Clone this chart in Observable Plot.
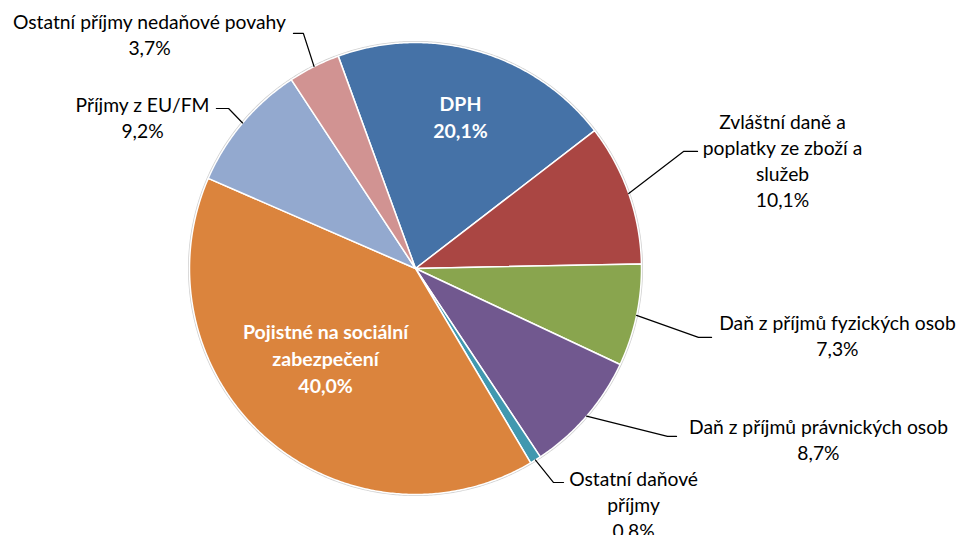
<!DOCTYPE html>
<html>
<head>
<meta charset="utf-8">
<script src="https://cdn.jsdelivr.net/npm/d3@7"></script>
<script src="https://cdn.jsdelivr.net/npm/@observablehq/plot@0.6"></script>
<style>
  html, body { margin: 0; padding: 0; background: #fff; overflow: hidden; }
</style>
</head>
<body>
<div id="chart"></div>
<script>
// ---- data ----
const categories = [
  "DPH",
  "Zvláštní daně a poplatky ze zboží a služeb",
  "Daň z příjmů fyzických osob",
  "Daň z příjmů právnických osob",
  "Ostatní daňové příjmy",
  "Pojistné na sociální zabezpečení",
  "Příjmy z EU/FM",
  "Ostatní příjmy nedaňové povahy"
];
const shares = [20.1, 10.1, 7.3, 8.7, 0.8, 40.0, 9.2, 3.7];
const labelLines = [
  "DPH",
  "Zvláštní daně a\npoplatky ze zboží a\nslužeb",
  "Daň z příjmů fyzických osob",
  "Daň z příjmů právnických osob",
  "Ostatní daňové\npříjmy",
  "Pojistné na sociální\nzabezpečení",
  "Příjmy z EU/FM",
  "Ostatní příjmy nedaňové povahy"
];
const colors = ["#4572A7", "#AA4643", "#89A54E", "#71588F", "#4198AF", "#DB843D", "#93A9CF", "#D19392"];

// ---- layout (radius units, relative to pie centre, y up) ----
const inside = [true, false, false, false, false, true, false, false];
const labelPos = [[0.199, 0.677], [1.624, 0.482], [1.867, -0.292], [1.783, -0.752], [0.965, -1.040], [-0.398, -0.392], [-1.208, 0.673], [-1.177, 1.040]];
const elbow = [null, [1.248, 1.186, 0.518], [1.310, 1.252, -0.305], [1.155, 1.115, -0.743], [0.655, 0.611, -0.947], null, [-0.881, -0.827, 0.708], [-0.540, -0.496, 1.040]];

const W = 960, H = 535, R = 226, CX = 415, CY = 268;
const startAngle = -20 * Math.PI / 180;

const arcs = d3.pie().sort(null).startAngle(startAngle).endAngle(startAngle + 2 * Math.PI)(shares);

const fmt = v => v.toFixed(1).replace(".", ",") + "%";

// slice polygons
const slicePts = [];
arcs.forEach((a, i) => {
  const n = Math.max(2, Math.ceil((a.endAngle - a.startAngle) / (Math.PI / 360)));
  slicePts.push({name: categories[i], x: 0, y: 0});
  for (let k = 0; k <= n; k++) {
    const t = a.startAngle + (a.endAngle - a.startAngle) * k / n;
    slicePts.push({name: categories[i], x: Math.sin(t), y: Math.cos(t)});
  }
  slicePts.push({name: categories[i], x: 0, y: 0});
});

// outer rim
const rim = d3.range(0, 721).map(k => {
  const t = k / 720 * 2 * Math.PI;
  return {x: Math.sin(t), y: Math.cos(t)};
});

// leader lines
const leaderPts = [];
arcs.forEach((a, i) => {
  if (inside[i]) return;
  const m = (a.startAngle + a.endAngle) / 2;
  const [e1, e2, ey] = elbow[i];
  leaderPts.push({name: categories[i], x: Math.sin(m), y: Math.cos(m)});
  leaderPts.push({name: categories[i], x: e2, y: ey});
  leaderPts.push({name: categories[i], x: e1, y: ey});
});

const labels = categories.map((c, i) => ({
  name: c,
  text: labelLines[i] + "\n" + fmt(shares[i]),
  x: labelPos[i][0],
  y: labelPos[i][1],
  inside: inside[i]
}));

const chart = Plot.plot({
  width: W,
  height: H,
  margin: 0,
  x: {domain: [-CX / R, (W - CX) / R], axis: null},
  y: {domain: [(CY - H) / R, CY / R], axis: null},
  color: {domain: categories, range: colors},
  style: {fontFamily: "Lato, 'Noto Sans', sans-serif", background: "#fff"},
  marks: [
    Plot.line(rim, {x: "x", y: "y", stroke: "#d0d0d0", strokeWidth: 3}),
    Plot.line(slicePts, {x: "x", y: "y", z: "name", fill: "name", stroke: "#fff", strokeWidth: 1.5, strokeLinejoin: "round"}),
    Plot.line(leaderPts, {x: "x", y: "y", z: "name", stroke: "#000", strokeWidth: 1.2}),
    Plot.text(labels.filter(d => !d.inside), {x: "x", y: "y", text: "text", fill: "#000", fontSize: 19.3, lineHeight: 1.36, textAnchor: "middle"}),
    Plot.text(labels.filter(d => d.inside), {x: "x", y: "y", text: "text", fill: "#fff", fontSize: 19.5, fontWeight: "bold", lineHeight: 1.38, textAnchor: "middle"})
  ]
});
document.getElementById("chart").appendChild(chart);
</script>
</body>
</html>
